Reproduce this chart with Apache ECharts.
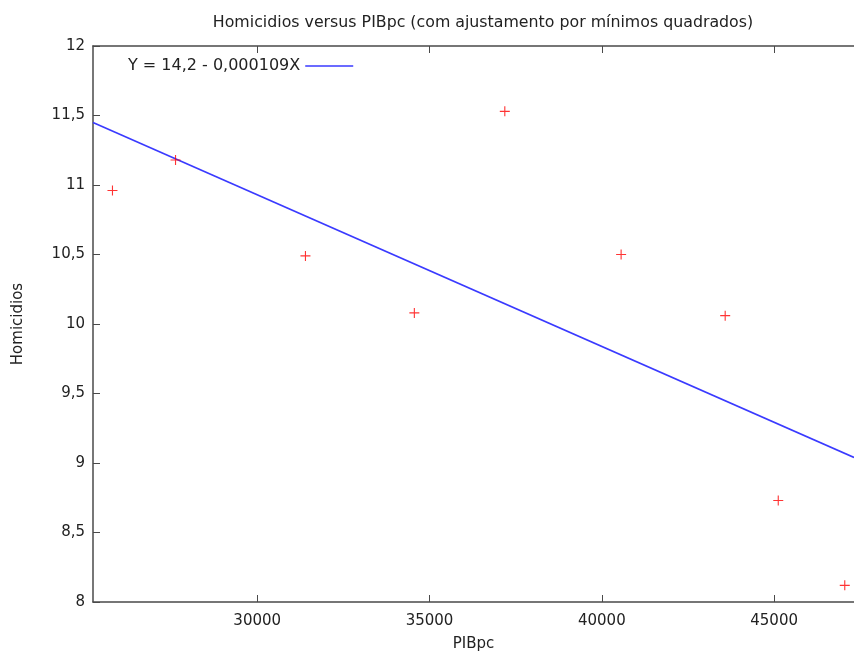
<!DOCTYPE html>
<html><head><meta charset="utf-8">
<script src="https://cdn.jsdelivr.net/npm/echarts@6/dist/echarts.min.js"></script>
<style>html,body{margin:0;padding:0;background:#fff}#c{width:854px;height:654px}</style>
</head><body><div id="c"></div>
<script>
const title = 'Homicidios versus PIBpc (com ajustamento por mínimos quadrados)';
const xName = 'PIBpc';
const yName = 'Homicidios';
const fitLabel = 'Y = 14,2 - 0,000109X';
const xTicks = [30000, 35000, 40000, 45000];
const pib = [25800, 27630, 31400, 34560, 37185, 40560, 43580, 45120, 47050];
const homicidios = [10.96, 11.18, 10.49, 10.08, 11.53, 10.50, 10.06, 8.73, 8.12];
const fitX = [25235, 47318];
const fitY = [11.45, 9.04];

const pts = pib.map((x, i) => [x, homicidios[i]]);
const fit = fitX.map((x, i) => [x, fitY[i]]);
const font = 'DejaVu Sans, Verdana, sans-serif';
const axisCol = '#4a4a4a';
const txt = '#222';

const chart = echarts.init(document.getElementById('c'), null, {renderer: 'canvas'});
chart.setOption({
  animation: false,
  textStyle: {fontFamily: font},
  title: {text: title, left: 478, top: 10, textAlign: 'center',
    textStyle: {fontFamily: font, fontSize: 15.8, fontWeight: 'normal', color: txt}},
  legend: {left: 123, top: 53, data: [fitLabel], align: 'right', icon: 'rect',
    itemWidth: 48, itemHeight: 1.5, itemGap: 8,
    textStyle: {fontFamily: font, fontSize: 16, color: txt}},
  grid: {left: 93, right: 0, top: 46, bottom: 52, outerBoundsMode: 'none', containLabel: false},
  xAxis: [{type: 'value', min: 25235, max: 47318,
      name: xName, nameLocation: 'middle', nameGap: 35,
      nameTextStyle: {fontFamily: font, fontSize: 15, color: txt},
      axisLine: {lineStyle: {color: axisCol, width: 1.5}},
      axisTick: {inside: true, length: 7, lineStyle: {color: axisCol}, customValues: xTicks},
      axisLabel: {fontFamily: font, fontSize: 15, color: txt, margin: 12,
        customValues: xTicks, formatter: v => String(v)},
      splitLine: {show: false}},
    {type: 'value', position: 'top', min: 25235, max: 47318,
      axisLine: {lineStyle: {color: axisCol, width: 1.5}},
      axisTick: {inside: true, length: 7, lineStyle: {color: axisCol}, customValues: xTicks},
      axisLabel: {show: false}, splitLine: {show: false}}],
  yAxis: {type: 'value', min: 8, max: 12, interval: 0.5,
    name: yName, nameLocation: 'middle', nameGap: 67,
    nameTextStyle: {fontFamily: font, fontSize: 15, color: txt},
    axisLine: {show: true, lineStyle: {color: axisCol, width: 1.5}},
    axisTick: {inside: true, length: 7, lineStyle: {color: axisCol}},
    axisLabel: {fontFamily: font, fontSize: 15, color: txt, margin: 8,
      formatter: v => String(v).replace('.', ',')},
    splitLine: {show: false}},
  series: [
    {name: fitLabel, type: 'line', data: fit, showSymbol: false, symbol: 'none', z: 2,
      lineStyle: {color: '#3a3aff', width: 1.6}, itemStyle: {color: '#3a3aff'}},
    {name: 'dados', type: 'scatter', data: pts, z: 3,
      symbol: 'path://M4,0H5V4H9V5H5V9H4V5H0V4H4Z',
      symbolSize: 10, itemStyle: {color: '#ff0000'}}
  ]
});
</script></body></html>
